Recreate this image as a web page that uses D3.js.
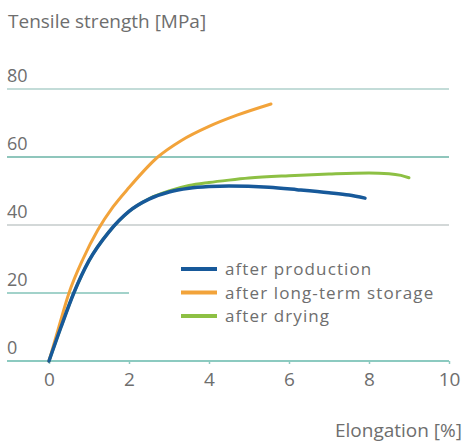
<!DOCTYPE html>
<html>
<head>
<meta charset="utf-8">
<script src="https://cdn.jsdelivr.net/npm/d3@7"></script>
<style>
  html, body { margin: 0; padding: 0; background: #fff; }
  svg { display: block; }
  text { font-family: "Open Sans", "DejaVu Sans", sans-serif; fill: #6e6e6e; }
</style>
</head>
<body>
<svg id="chart" width="463" height="442"></svg>
<script>
// Stress–strain curves: elongation [%] vs tensile strength [MPa]
const xTicks = [0, 2, 4, 6, 8, 10];
const yTicks = [0, 20, 40, 60, 80];
// how far (in % elongation) each horizontal guide line runs
const yGridEnd = [10, 2, 10, 10, 10];

const seriesNames = ["after production", "after long-term storage", "after drying"];
const seriesColors = ["#17599a", "#f2a33a", "#8dc044"];

const afterProduction = [
  [0, 0], [0.3, 10], [0.62, 20], [1, 29.5], [1.5, 38], [2, 44], [2.5, 47.6],
  [3, 49.7], [3.5, 50.8], [4, 51.3], [4.5, 51.5], [5.5, 51.1], [6.2, 50.4],
  [7, 49.5], [7.5, 48.8], [7.9, 47.9]
];
const afterStorage = [
  [0, 0], [0.25, 10.2], [0.5, 20], [0.85, 30], [1.22, 38.5], [1.6, 45.3], [2, 51],
  [2.72, 60], [3.3, 64.8], [4, 69], [4.7, 72.3], [5.55, 75.6]
];
const afterDrying = [
  [0, 0], [0.3, 10], [0.62, 20], [1, 29.5], [1.5, 38], [2, 44], [2.5, 47.7],
  [3, 50], [3.5, 51.6], [4, 52.5], [4.5, 53.2], [5, 53.8], [6, 54.5], [7, 55],
  [8, 55.3], [8.5, 55.1], [8.8, 54.6], [9, 53.9]
];

const svg = d3.select("#chart");
const x = d3.scaleLinear().domain([0, 10]).range([49, 449]);
const y = d3.scaleLinear().domain([0, 80]).range([361, 89]);
const gridColors = ["#8ccac0", "#a2d2ca", "#d3d8d8", "#8fc6bc", "#c3dcd8"];

// horizontal guide lines with their labels
const grid = svg.append("g");
yTicks.forEach((v, i) => {
  grid.append("line")
    .attr("x1", 7).attr("x2", x(yGridEnd[i]))
    .attr("y1", y(v)).attr("y2", y(v))
    .attr("stroke", gridColors[i]).attr("stroke-width", 2);
  grid.append("text")
    .attr("x", 7).attr("y", y(v) - 7)
    .attr("font-size", 18)
    .text(v);
});

// x axis ticks and labels along the zero line
const xAxis = svg.append("g").attr("transform", `translate(0,${y(0)})`)
  .call(d3.axisBottom(x).tickValues(xTicks).tickSize(3).tickSizeOuter(0).tickPadding(9));
xAxis.select(".domain").remove();
xAxis.selectAll(".tick line").attr("stroke", "#8ccac0").attr("stroke-width", 1.5);
xAxis.selectAll(".tick text")
  .attr("font-size", 19)
  .attr("font-family", "'Open Sans', sans-serif")
  .attr("fill", "#6e6e6e");

// curves
const line = d3.line().x(d => x(d[0])).y(d => y(d[1])).curve(d3.curveMonotoneX);
const curves = [
  { data: afterDrying, color: seriesColors[2], w: 3 },
  { data: afterStorage, color: seriesColors[1], w: 3 },
  { data: afterProduction, color: seriesColors[0], w: 3.5 }
];
curves.forEach(c => {
  svg.append("path")
    .datum(c.data)
    .attr("d", line)
    .attr("fill", "none")
    .attr("stroke", c.color)
    .attr("stroke-width", c.w)
    .attr("stroke-linecap", "round");
});

// legend
const legend = svg.append("g").attr("transform", "translate(181,269)");
seriesNames.forEach((name, i) => {
  const g = legend.append("g").attr("transform", `translate(0,${i * 23.5})`);
  g.append("line").attr("x1", 0).attr("x2", 36).attr("y1", 0).attr("y2", 0)
    .attr("stroke", seriesColors[i]).attr("stroke-width", 4);
  g.append("text").attr("x", 44).attr("y", 6)
    .attr("font-size", 17).attr("letter-spacing", 1.1).text(name);
});

// axis titles
svg.append("text").attr("x", 8).attr("y", 28).attr("font-size", 19)
  .text("Tensile strength [MPa]");
svg.append("text").attr("x", 462).attr("y", 437).attr("font-size", 19)
  .attr("text-anchor", "end").text("Elongation [%]");
</script>
</body>
</html>
